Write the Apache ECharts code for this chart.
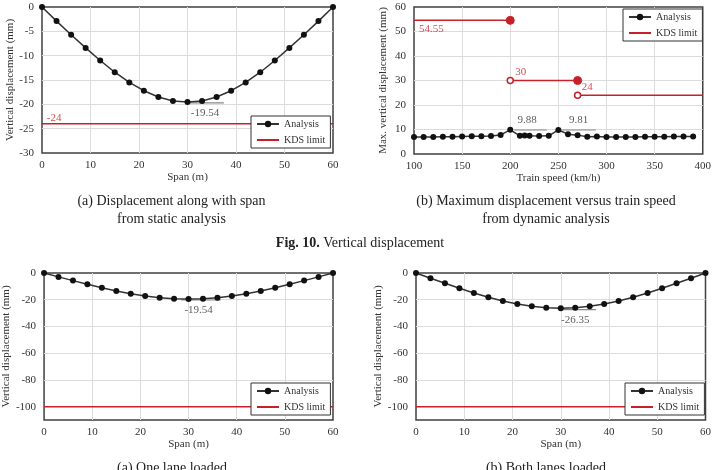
<!DOCTYPE html>
<html>
<head>
<meta charset="utf-8">
<script src="https://cdn.jsdelivr.net/npm/echarts@6/dist/echarts.min.js"></script>
<style>
  html, body { margin: 0; padding: 0; background: #fff; }
  #main { width: 714px; height: 470px; }
</style>
</head>
<body>
<div id="main"></div>
<script>
  // span positions (m)
  var spanX = [0, 3, 6, 9, 12, 15, 18, 21, 24, 27, 30, 33, 36, 39, 42, 45, 48, 51, 54, 57, 60]
  // static displacement (mm)
  var staticDisp = [0, -2.9, -5.7, -8.4, -11.0, -13.4, -15.5, -17.2, -18.5, -19.3, -19.54,
    -19.3, -18.5, -17.2, -15.5, -13.4, -11.0, -8.4, -5.7, -2.9, 0]
  var oneLaneDisp = [0, -2.9, -5.7, -8.4, -11.0, -13.4, -15.5, -17.2, -18.5, -19.3, -19.54,
    -19.3, -18.5, -17.2, -15.5, -13.4, -11.0, -8.4, -5.7, -2.9, 0]
  var bothLaneDisp = [0, -3.9, -7.7, -11.4, -14.9, -18.1, -20.9, -23.2, -24.9, -26.0, -26.35,
    -26.0, -24.9, -23.2, -20.9, -18.1, -14.9, -11.4, -7.7, -3.9, 0]
  // train speed (km/h) and max displacement (mm)
  var speeds = [100, 110, 120, 130, 140, 150, 160, 170, 180, 190, 200, 210, 215, 220, 230, 240,
    250, 260, 270, 280, 290, 300, 310, 320, 330, 340, 350, 360, 370, 380, 390]
  var dynDisp = [6.9, 6.9, 6.9, 7.0, 7.0, 7.1, 7.2, 7.2, 7.3, 7.8, 9.88, 7.4, 7.6, 7.4, 7.3, 7.4,
    9.81, 8.1, 7.7, 7.0, 7.1, 6.9, 6.9, 6.9, 6.9, 7.0, 7.0, 7.0, 7.1, 7.1, 7.1]
  // KDS limits
  var staticLimit = -24
  var laneLimit = -100
  var speedLimitSteps = [
    {from: 100, to: 200, value: 54.55},
    {from: 200, to: 270, value: 30},
    {from: 270, to: 400, value: 24}
  ]
  // tick labels of the lane-loading charts
  var laneTicks = [0, -20, -40, -60, -80, -100]

  var FONT = '"Liberation Serif", "Times New Roman", serif'
  var RED = '#c8202a'
  var DARK = '#333'

  function zip (xs, ys) {
    return xs.map(function (x, i) { return [x, ys[i]] })
  }

  function analysisSeries (idx, data) {
    return {
      name: 'Analysis',
      type: 'line',
      xAxisIndex: idx,
      yAxisIndex: idx,
      data: data,
      symbol: 'circle',
      symbolSize: 6,
      lineStyle: {color: DARK, width: 1.5},
      itemStyle: {color: '#111'},
      z: 5
    }
  }

  function limitSeries (idx, data) {
    return {
      name: 'KDS limit',
      type: 'line',
      xAxisIndex: idx,
      yAxisIndex: idx,
      data: data,
      symbol: 'none',
      lineStyle: {color: RED, width: 1.5},
      itemStyle: {color: RED},
      z: 3
    }
  }

  function noteLine (idx, from, to) {
    return {
      type: 'line',
      xAxisIndex: idx,
      yAxisIndex: idx,
      data: [from, to],
      symbol: 'none',
      silent: true,
      lineStyle: {color: '#888', width: 1.2},
      z: 4
    }
  }

  function noteText (idx, pos, text, color) {
    return {
      type: 'scatter',
      xAxisIndex: idx,
      yAxisIndex: idx,
      symbolSize: 0,
      silent: true,
      data: [{value: pos}],
      label: {
        show: true,
        position: 'inside',
        formatter: text,
        color: color || DARK,
        fontFamily: FONT,
        fontSize: 11
      },
      z: 6
    }
  }

  function xAxis (idx, min, max, interval, name) {
    return {
      gridIndex: idx,
      type: 'value',
      min: min,
      max: max,
      interval: interval,
      name: name,
      nameLocation: 'middle',
      nameGap: 18,
      nameTextStyle: {fontFamily: FONT, fontSize: 11, color: DARK},
      axisLine: {show: false},
      axisTick: {show: false},
      axisLabel: {fontFamily: FONT, fontSize: 11, color: DARK, margin: 7},
      splitLine: {show: true, showMinLine: false, showMaxLine: false, lineStyle: {color: '#dcdcdc'}}
    }
  }

  function yAxis (idx, min, max, interval, name, gap, ticks) {
    var ax = {
      gridIndex: idx,
      type: 'value',
      min: min,
      max: max,
      interval: interval,
      name: name,
      nameLocation: 'middle',
      nameGap: gap,
      nameTextStyle: {fontFamily: FONT, fontSize: 11, color: DARK},
      axisLine: {show: false},
      axisTick: {show: false},
      axisLabel: {fontFamily: FONT, fontSize: 11, color: DARK, margin: 8},
      splitLine: {show: true, showMinLine: false, showMaxLine: false, lineStyle: {color: '#dcdcdc'}}
    }
    if (ticks) {
      delete ax.interval
      ax.axisTick.customValues = ticks
      ax.axisLabel.customValues = ticks
    }
    return ax
  }

  function legend (left, top) {
    return {
      data: ['Analysis', {name: 'KDS limit', itemStyle: {opacity: 0}}],
      orient: 'vertical',
      left: left,
      top: top,
      backgroundColor: '#fff',
      borderColor: DARK,
      borderWidth: 1,
      padding: [2, 5, 2, 5],
      itemGap: 4,
      itemWidth: 22,
      itemHeight: 8,
      selectedMode: false,
      textStyle: {fontFamily: FONT, fontSize: 10, lineHeight: 12, color: DARK}
    }
  }

  var gridBase = {show: true, borderColor: '#404040', borderWidth: 1.5, backgroundColor: 'transparent'}

  var series = [
    // (a) static
    analysisSeries(0, zip(spanX, staticDisp)),
    limitSeries(0, [[0, staticLimit], [60, staticLimit]]),
    noteLine(0, [30, -19.7], [37.5, -19.7]),
    noteText(0, [33.6, -21.8], '-19.54'),
    noteText(0, [2.5, -22.8], '-24', RED),
    // (b) dynamic
    analysisSeries(1, zip(speeds, dynDisp)),
    noteLine(1, [204, 9.8], [238, 9.8]),
    noteText(1, [217.5, 13.9], '9.88'),
    noteLine(1, [254, 9.8], [289, 9.8]),
    noteText(1, [271, 13.9], '9.81'),
    noteText(1, [118, 51], '54.55', RED),
    noteText(1, [211, 33.6], '30', RED),
    noteText(1, [280, 27.2], '24', RED),
    // (c) one lane
    analysisSeries(2, zip(spanX, oneLaneDisp)),
    limitSeries(2, [[0, laneLimit], [60, laneLimit]]),
    noteLine(2, [28.5, -20.2], [36.7, -20.2]),
    noteText(2, [32.1, -27.7], '-19.54'),
    // (d) both lanes
    analysisSeries(3, zip(spanX, bothLaneDisp)),
    limitSeries(3, [[0, laneLimit], [60, laneLimit]]),
    noteLine(3, [29.7, -27.4], [37.3, -27.4]),
    noteText(3, [33, -35.2], '-26.35')
  ]

  speedLimitSteps.forEach(function (s, i) {
    var start = {value: [s.from, s.value]}
    var end = {value: [s.to, s.value]}
    if (i > 0) {
      start.symbol = 'circle'
      start.symbolSize = 6
      start.itemStyle = {color: '#fff', borderColor: RED, borderWidth: 1.5}
    }
    if (i < speedLimitSteps.length - 1) {
      end.symbol = 'circle'
      end.symbolSize = 8
      end.itemStyle = {color: RED, borderColor: RED}
    }
    var ser = limitSeries(1, [start, end])
    ser.showAllSymbol = true
    series.push(ser)
  })

  var textStyle = {fontFamily: FONT, fontSize: 14, fill: '#222', align: 'center', verticalAlign: 'middle'}
  function caption (x, y, text) {
    return {type: 'text', x: x, y: y, style: Object.assign({text: text}, textStyle)}
  }

  var chart = echarts.init(document.getElementById('main'))
  var option = {
    backgroundColor: '#fff',
    animation: false,
    grid: [
      Object.assign({left: 42, top: 7, width: 291, height: 146}, gridBase),
      Object.assign({left: 414, top: 7, width: 291, height: 147}, gridBase),
      Object.assign({left: 42, top: 273, width: 291, height: 147}, gridBase),
      Object.assign({left: 416, top: 273, width: 291, height: 147}, gridBase)
    ],
    xAxis: [
      xAxis(0, 0, 60, 10, 'Span (m)'),
      xAxis(1, 100, 400, 50, 'Train speed (km/h)'),
      xAxis(2, 0, 60, 10, 'Span (m)'),
      xAxis(3, 0, 60, 10, 'Span (m)')
    ],
    yAxis: [
      yAxis(0, -30, 0, 5, 'Vertical displacement (mm)', 24),
      yAxis(1, 0, 60, 10, 'Max. vertical displacement (mm)', 25),
      yAxis(2, -110, 0, null, 'Vertical displacement (mm)', 24, laneTicks),
      yAxis(3, -110, 0, null, 'Vertical displacement (mm)', 24, laneTicks)
    ],
    legend: [
      legend(251, 116),
      legend(623, 9),
      legend(251, 383),
      legend(625, 383)
    ],
    graphic: [
      caption(171.5, 201, '(a) Displacement along with span'),
      caption(171.5, 219, 'from static analysis'),
      caption(546, 201, '(b) Maximum displacement versus train speed'),
      caption(546, 219, 'from dynamic analysis'),
      {type: 'text', x: 360, y: 243, style: Object.assign({
        text: '{b|Fig. 10.} Vertical displacement',
        rich: {b: {fontWeight: 'bold', fontFamily: FONT, fontSize: 14}}
      }, textStyle)},
      caption(172, 468, '(a) One lane loaded'),
      caption(546, 468, '(b) Both lanes loaded')
    ],
    series: series
  }
  chart.setOption(option)
</script>
</body>
</html>
